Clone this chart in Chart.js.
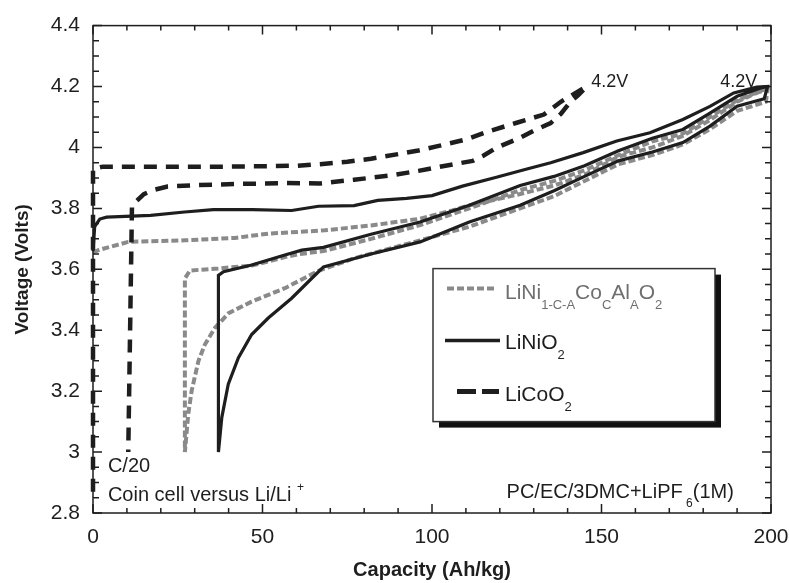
<!DOCTYPE html>
<html>
<head>
<meta charset="utf-8">
<script src="https://cdn.jsdelivr.net/npm/chart.js@4/dist/chart.umd.min.js"></script>
<style>
  html, body { margin: 0; padding: 0; background: #fff; }
  #wrap { width: 789px; height: 583px; }
</style>
</head>
<body>
<div id="wrap"><canvas id="chart" width="789" height="583"></canvas></div>
<script>
// tick labels
const capacityTicks = [0, 50, 100, 150, 200];
const voltageTicks = [2.8, 3.0, 3.2, 3.4, 3.6, 3.8, 4.0, 4.2, 4.4];

// LiCoO2: charge from 0 up to 4.2V, then discharge back to ~10 Ah/kg
const licoCapacity = [0, 0, 3, 20, 40, 60, 67, 75, 82, 90, 96, 102, 110, 117, 125, 133, 138, 141, 145.6, 143,
  141, 138, 135, 130, 126, 119, 115, 112, 104, 96, 87, 77, 67, 57, 42, 30, 22, 18, 15, 11.5, 10.4];
const licoVoltage = [2.87, 3.93, 3.937, 3.937, 3.937, 3.94, 3.945, 3.953, 3.963, 3.978, 3.99, 4.005, 4.026, 4.054, 4.081, 4.108, 4.15, 4.17, 4.2, 4.17,
  4.152, 4.11, 4.08, 4.055, 4.032, 3.999, 3.972, 3.956, 3.94, 3.923, 3.907, 3.894, 3.882, 3.883, 3.88, 3.876, 3.872, 3.861, 3.847, 3.81, 3.0];

// LiNiO2: first charge, discharge, second charge
const linioCapacity = [0, 0.5, 2, 4, 17, 27, 35.5, 47, 58.6, 66.5, 77, 84, 92.5, 100, 109, 119, 128, 135, 144.6, 154.5, 164.3, 174, 182, 189, 195.8, 199,
  198, 190, 182, 174, 165, 155, 145, 136, 126, 111, 96.5, 82, 68, 66.5, 58.6, 51.7, 46.8, 42.9, 39.9, 38, 37,
  37, 38.5, 46.8, 56.6, 61.6, 68, 82, 96.5, 111, 126, 136, 145, 155, 165, 174, 182, 190, 197, 199];
const linioVoltage = [3.66, 3.74, 3.765, 3.771, 3.777, 3.788, 3.796, 3.796, 3.793, 3.807, 3.809, 3.826, 3.833, 3.842, 3.873, 3.902, 3.929, 3.95, 3.983, 4.021, 4.048, 4.092, 4.135, 4.179, 4.198, 4.2,
  4.16, 4.135, 4.07, 4.016, 3.985, 3.956, 3.905, 3.858, 3.81, 3.755, 3.69, 3.65, 3.608, 3.592, 3.505, 3.44, 3.386, 3.31, 3.223, 3.114, 3.0,
  3.58, 3.592, 3.614, 3.647, 3.663, 3.672, 3.715, 3.755, 3.81, 3.875, 3.905, 3.94, 3.989, 4.03, 4.059, 4.113, 4.168, 4.195, 4.2];

// LiNi(1-C-A)Co(C)Al(A)O2: first charge, discharge, second charge
const nicaCapacity = [0, 1.6, 10.4, 27.1, 41.9, 51.7, 68.4, 82, 96.5, 106, 111, 126, 136, 145, 155, 165, 174, 182, 190, 196, 199,
  198.5, 190, 182, 174, 165, 155, 145, 136, 126, 111, 96.5, 77, 66.5, 56.6, 46.8, 40, 36, 33, 31.1, 29.1, 28.1, 27.1,
  27.1, 28.6, 37, 46.8, 56.6, 61, 68, 82, 96.5, 111, 126, 136, 145, 155, 165, 174, 182, 190, 198];
const nicaVoltage = [3.655, 3.663, 3.69, 3.695, 3.703, 3.717, 3.728, 3.744, 3.766, 3.793, 3.81, 3.847, 3.875, 3.91, 3.97, 4.0, 4.038, 4.09, 4.15, 4.18, 4.19,
  4.15, 4.12, 4.06, 4.01, 3.975, 3.945, 3.89, 3.84, 3.80, 3.74, 3.695, 3.636, 3.595, 3.538, 3.494, 3.456, 3.408, 3.353, 3.299, 3.201, 3.125, 3.0,
  3.57, 3.596, 3.603, 3.612, 3.64, 3.65, 3.66, 3.70, 3.745, 3.80, 3.86, 3.89, 3.925, 3.975, 4.02, 4.045, 4.10, 4.155, 4.19];

const FONT = '"Liberation Sans", Arial, Helvetica, sans-serif';
const INK = '#1e1e1e';
const GRAY = '#8a8a8a';

const toPoints = (xs, ys) => xs.map((x, i) => ({ x, y: ys[i] }));

// text with sub/superscripts: parts = [[text, 'n' | 'sub' | 'sup'], ...]
function drawParts(ctx, parts, x, y, size, color) {
    ctx.fillStyle = color;
    ctx.textBaseline = 'alphabetic';
    ctx.textAlign = 'left';
    parts.forEach(([txt, kind]) => {
        const s = kind === 'n' ? size : Math.round(size * 0.62);
        const dy = kind === 'sub' ? size * 0.48 : kind === 'sup' ? -size * 0.5 : 0;
        ctx.font = `${s}px ${FONT}`;
        ctx.fillText(txt, x, y + dy);
        x += ctx.measureText(txt).width;
    });
}

const framePlugin = {
    id: 'frame',
    afterDatasetsDraw(chart) {
        const { ctx, chartArea: a, scales: { x, y } } = chart;
        ctx.save();
        ctx.strokeStyle = INK;
        ctx.lineWidth = 1.5;
        ctx.strokeRect(a.left, a.top, a.right - a.left, a.bottom - a.top);
        ctx.beginPath();
        for (let v = 0; v <= 200; v += 10) {
            const px = x.getPixelForValue(v);
            const len = v % 50 === 0 ? 9 : 5;
            ctx.moveTo(px, a.bottom); ctx.lineTo(px, a.bottom - len);
            ctx.moveTo(px, a.top); ctx.lineTo(px, a.top + len);
        }
        for (let i = 0; i <= 32; i++) {
            const py = y.getPixelForValue(2.8 + i * 0.05);
            const len = i % 4 === 0 ? 9 : 6;
            ctx.moveTo(a.left, py); ctx.lineTo(a.left + len, py);
            ctx.moveTo(a.right, py); ctx.lineTo(a.right - len, py);
        }
        ctx.stroke();
        ctx.restore();
    },
};

const notesPlugin = {
    id: 'notes',
    afterDraw(chart) {
        const { ctx, chartArea: a, scales: { x, y } } = chart;
        ctx.save();

        drawParts(ctx, [['4.2V', 'n']], x.getPixelForValue(147), y.getPixelForValue(4.2), 18, INK);
        drawParts(ctx, [['4.2V', 'n']], x.getPixelForValue(185), y.getPixelForValue(4.2), 18, INK);
        drawParts(ctx, [['C/20', 'n']], x.getPixelForValue(4.4), y.getPixelForValue(2.934), 20, INK);
        drawParts(ctx, [['Coin cell versus Li/Li ', 'n'], ['+', 'sup']],
            x.getPixelForValue(4.4), y.getPixelForValue(2.84), 20, INK);
        drawParts(ctx, [['PC/EC/3DMC+LiPF', 'n'], [' 6', 'sub'], ['(1M)', 'n']],
            x.getPixelForValue(122), y.getPixelForValue(2.85), 20, INK);

        // legend box with drop shadow
        const bx = a.left + 340, by = a.top + 243, bw = 282, bh = 153;
        ctx.fillStyle = '#111';
        ctx.fillRect(bx + 6, by + 6, bw, bh);
        ctx.fillStyle = '#fff';
        ctx.fillRect(bx, by, bw, bh);
        ctx.strokeStyle = '#333';
        ctx.lineWidth = 1.5;
        ctx.strokeRect(bx, by, bw, bh);

        const sample = (y0, x0, x1, color, width, dash) => {
            ctx.beginPath();
            ctx.strokeStyle = color;
            ctx.lineWidth = width;
            ctx.setLineDash(dash);
            ctx.moveTo(bx + x0, by + y0);
            ctx.lineTo(bx + x1, by + y0);
            ctx.stroke();
            ctx.setLineDash([]);
        };
        sample(20, 14, 62, GRAY, 4, [7, 3]);
        sample(72, 12, 67, INK, 3.5, []);
        sample(123, 24, 66, INK, 5, [19, 6]);

        drawParts(ctx, [['LiNi', 'n'], ['1-C-A', 'sub'], ['Co', 'n'], ['C', 'sub'], ['Al', 'n'], ['A', 'sub'], ['O', 'n'], ['2', 'sub']],
            bx + 72, by + 30, 21, '#6f6f6f');
        drawParts(ctx, [['LiNiO', 'n'], ['2', 'sub']], bx + 72, by + 80, 21, INK);
        drawParts(ctx, [['LiCoO', 'n'], ['2', 'sub']], bx + 72, by + 132, 21, INK);
        ctx.restore();
    },
};

new Chart(document.getElementById('chart'), {
    type: 'line',
    data: {
        datasets: [
            {
                label: 'LiCoO2',
                data: toPoints(licoCapacity, licoVoltage),
                borderColor: INK,
                borderWidth: 4.5,
                borderDash: [13, 9],
            },
            {
                label: 'LiNiO2',
                data: toPoints(linioCapacity, linioVoltage),
                borderColor: INK,
                borderWidth: 3.2,
            },
            {
                label: 'LiNi1-C-ACoCAlAO2',
                data: toPoints(nicaCapacity, nicaVoltage),
                borderColor: GRAY,
                borderWidth: 4,
                borderDash: [7, 3],
            },
        ],
    },
    options: {
        responsive: false,
        animation: false,
        layout: { padding: { left: 0, right: 18, top: 22, bottom: 0 } },
        elements: {
            point: { radius: 0 },
            line: { tension: 0, fill: false, borderCapStyle: 'butt' },
        },
        datasets: { line: { clip: 5 } },
        plugins: {
            legend: { display: false },
            tooltip: { enabled: false },
        },
        scales: {
            x: {
                type: 'linear',
                min: 0,
                max: 200,
                afterFit: (s) => { s.height = 70; s.paddingRight = 18; },
                afterBuildTicks: (s) => { s.ticks = capacityTicks.map((value) => ({ value })); },
                grid: { display: false, drawTicks: false },
                border: { display: false },
                ticks: { color: INK, font: { size: 21, family: FONT }, padding: 12, maxRotation: 0 },
                title: {
                    display: true,
                    text: 'Capacity (Ah/kg)',
                    color: INK,
                    font: { size: 20, weight: 'bold', family: FONT },
                    padding: { top: 0, bottom: 1 },
                },
            },
            y: {
                type: 'linear',
                min: 2.8,
                max: 4.4,
                afterFit: (s) => { s.width = 93; },
                afterBuildTicks: (s) => { s.ticks = voltageTicks.map((value) => ({ value })); },
                grid: { display: false, drawTicks: false },
                border: { display: false },
                ticks: {
                    color: INK,
                    font: { size: 21, family: FONT },
                    padding: 13,
                    callback: (v) => String(Number(v.toFixed(1))),
                },
                title: {
                    display: true,
                    text: 'Voltage (Volts)',
                    color: INK,
                    font: { size: 19, weight: 'bold', family: FONT },
                    padding: { top: 11, bottom: 0 },
                },
            },
        },
    },
    plugins: [framePlugin, notesPlugin],
});
</script>
</body>
</html>
